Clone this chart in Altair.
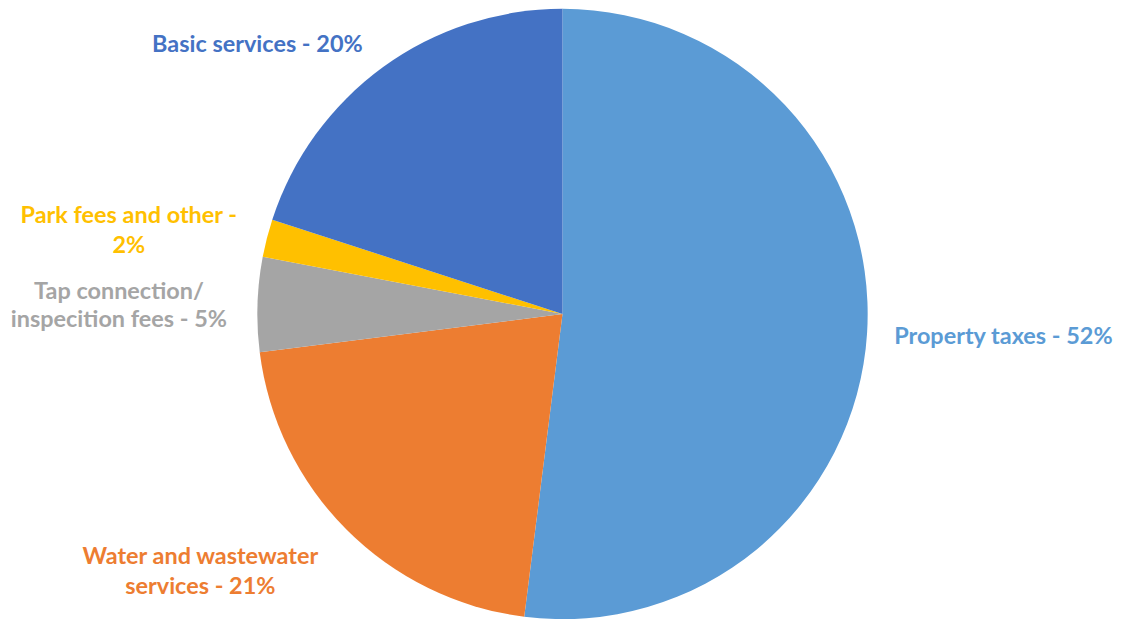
import altair as alt
import pandas as pd

categories = ["Property taxes", "Water and wastewater services", "Tap connection/inspecition fees",
              "Park fees and other", "Basic services"]
values = [52, 21, 5, 2, 20]
labels = ["Property taxes - 52%", "Water and wastewater\nservices - 21%",
          "Tap connection/\ninspecition fees - 5%", "Park fees and other -\n2%",
          "Basic services - 20%"]
colors = ["#5B9BD5", "#ED7D31", "#A5A5A5", "#FFC000", "#4472C4"]

df = pd.DataFrame({"category": categories, "value": values, "label": labels,
                   "order": list(range(len(categories)))})

W, H = 1106, 600
CX, CY = 556, 304
R = 306

theta_scale = alt.Scale(domain=[0, 100])
color_scale = alt.Scale(domain=categories, range=colors)

pie = alt.Chart(df).mark_arc(radius=R, stroke=None).encode(
    theta=alt.Theta("value:Q", stack=True, scale=theta_scale),
    color=alt.Color("category:N", scale=color_scale, legend=None),
    order=alt.Order("order:Q"),
    x=alt.value(CX), y=alt.value(CY),
)

# label placement (radius, dx, dy, line height) per slice, in slice order
placement = [(442, 1, -5, 30), (440, -52, -67, 30), (445, 0, -8, 28),
             (449, 0, 13, 31), (398, -72, 52, 30)]

layers = [pie]
for cat, (rad, dx, dy, lh) in zip(categories, placement):
    t = alt.Chart(df).transform_window(
        cum="sum(value)", sort=[alt.SortField("order")]
    ).transform_calculate(
        mid="datum.cum - datum.value / 2"
    ).transform_filter(
        alt.datum.category == cat
    ).mark_text(
        radius=rad, dx=dx, dy=dy, align="center", baseline="middle",
        font="Lato", fontWeight="bold", fontSize=23.5, lineBreak="\n", lineHeight=lh,
    ).encode(
        theta=alt.Theta("mid:Q", stack=None, scale=theta_scale),
        text="label:N",
        color=alt.Color("category:N", scale=color_scale, legend=None),
        x=alt.value(CX), y=alt.value(CY),
    )
    layers.append(t)

chart = alt.layer(*layers).properties(
    width=W, height=H, padding=0
).configure_view(stroke=None)

chart.save("out.html", embed_options={"renderer": "svg", "actions": False})
